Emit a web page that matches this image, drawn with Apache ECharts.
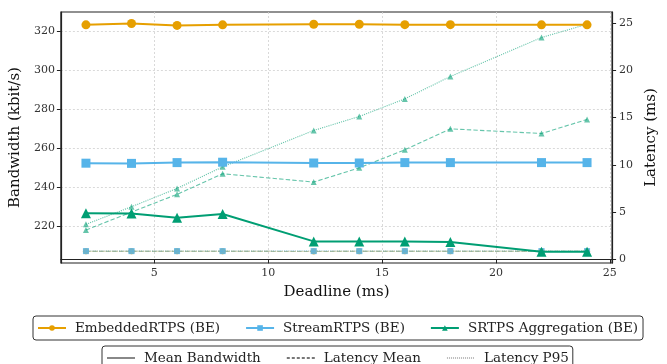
<!DOCTYPE html>
<html>
<head>
<meta charset="utf-8">
<script src="https://cdn.jsdelivr.net/npm/echarts@6/dist/echarts.min.js"></script>
<style>
html,body{margin:0;padding:0;background:#fff;}
#chart{width:667px;height:364px;}
</style>
</head>
<body>
<div id="chart"></div>
<script>
// Data
var deadlines = [2, 4, 6, 8, 12, 14, 16, 18, 22, 24];
var embeddedBw = [323.4, 324.1, 323.1, 323.4, 323.7, 323.7, 323.5, 323.5, 323.4, 323.4];
var streamBw = [252.3, 252.2, 252.6, 252.8, 252.4, 252.4, 252.6, 252.6, 252.6, 252.6];
var srtpsBw = [226.6, 226.4, 224.2, 226.2, 212.1, 212.1, 212.1, 211.8, 206.8, 206.8];
var embeddedLatMean = [0.84, 0.84, 0.84, 0.84, 0.83, 0.84, 0.84, 0.84, 0.84, 0.84];
var embeddedLatP95 = [0.86, 0.86, 0.86, 0.86, 0.85, 0.86, 0.86, 0.86, 0.86, 0.86];
var streamLatMean = [0.86, 0.86, 0.86, 0.86, 0.86, 0.86, 0.86, 0.86, 0.86, 0.86];
var streamLatP95 = [0.88, 0.88, 0.88, 0.88, 0.88, 0.88, 0.88, 0.88, 0.88, 0.88];
var srtpsLatMean = [3.1, 5.0, 6.87, 9.05, 8.17, 9.68, 11.58, 13.8, 13.31, 14.79];
var srtpsLatP95 = [3.7, 5.56, 7.5, 9.78, 13.63, 15.11, 16.97, 19.34, 23.46, 24.86];
var xTicks = [5, 10, 15, 20, 25];
var bwTicks = [220, 240, 260, 280, 300, 320];
var latTicks = [0, 5, 10, 15, 20, 25];

var implNames = ['EmbeddedRTPS (BE)', 'StreamRTPS (BE)', 'SRTPS Aggregation (BE)'];
var metricNames = ['Mean Bandwidth', 'Latency Mean', 'Latency P95'];

var ORANGE = '#E69F00', BLUE = '#56B4E9', GREEN = '#009E73';
var FONT = 'DejaVu Serif';

function pairs(ys) { return deadlines.map(function (x, i) { return [x, ys[i]]; }); }

function bwSeries(name, ys, color, symbol, size, z) {
  return {
    name: name, type: 'line', yAxisIndex: 0, data: pairs(ys),
    symbol: symbol, symbolSize: size, showSymbol: true,
    itemStyle: { color: color },
    lineStyle: { color: color, width: 2 },
    z: z, animation: false
  };
}
function latSeries(name, ys, color, symbol, size, type, z) {
  return {
    name: name, type: 'line', yAxisIndex: 1, data: pairs(ys),
    symbol: symbol, symbolSize: size,
    itemStyle: { color: color, opacity: 0.6 },
    lineStyle: { color: color, width: 1.1, type: type, opacity: 0.6 },
    z: z, animation: false
  };
}
function dummy(name, color, width, type) {
  return {
    name: name, type: 'line', data: [], symbol: 'none',
    itemStyle: { color: color },
    lineStyle: { color: color, width: width, type: type },
    animation: false
  };
}

var series = [
  latSeries('EmbeddedRTPS Latency Mean', embeddedLatMean, ORANGE, 'circle', 6, 'dashed', 3),
  latSeries('EmbeddedRTPS Latency P95', embeddedLatP95, ORANGE, 'circle', 6, 'dotted', 3),
  latSeries('StreamRTPS Latency Mean', streamLatMean, BLUE, 'rect', 6, 'dashed', 4),
  latSeries('StreamRTPS Latency P95', streamLatP95, BLUE, 'rect', 6, 'dotted', 4),
  latSeries('SRTPS Latency Mean', srtpsLatMean, GREEN, 'triangle', 6, 'dashed', 4),
  latSeries('SRTPS Latency P95', srtpsLatP95, GREEN, 'triangle', 6, 'dotted', 4),
  bwSeries(implNames[0], embeddedBw, ORANGE, 'circle', 9, 6),
  bwSeries(implNames[1], streamBw, BLUE, 'rect', 9, 6),
  bwSeries(implNames[2], srtpsBw, GREEN, 'triangle', 10, 6),
  dummy(metricNames[0], '#888', 2, 'solid'),
  dummy(metricNames[1], '#777', 1, [3, 2]),
  dummy(metricNames[2], '#bbb', 1, [1, 1])
];

var legendCommon = {
  orient: 'horizontal',
  itemWidth: 28, itemHeight: 7,
  borderColor: '#333', borderWidth: 1, borderRadius: 3,
  textStyle: { fontFamily: FONT, fontSize: 13.5, color: '#222', padding: [0, 0, 0, 4] },
  selectedMode: false
};

var axisLabelStyle = { fontFamily: FONT, fontSize: 11, color: '#333' };

var option = {
  backgroundColor: '#fff',
  animation: false,
  grid: { left: 53, right: 46, top: 12, bottom: 101, show: true, borderColor: '#222', borderWidth: 1.2, backgroundColor: 'transparent' },
  legend: [
    Object.assign({}, legendCommon, { data: implNames, left: 33, top: 316, itemGap: 25, padding: [5, 5, 5, 4] }),
    Object.assign({}, legendCommon, {
      data: metricNames.map(function (n) { return { name: n, itemStyle: { opacity: 0 } }; }),
      left: 102, top: 346, itemGap: 25, padding: [5, 4, 5, 4]
    })
  ],
  xAxis: {
    type: 'value', min: 0.9, max: 25.1,
    name: 'Deadline (ms)', nameLocation: 'middle', nameGap: 22,
    nameTextStyle: { fontFamily: FONT, fontSize: 15, color: '#111' },
    axisLine: { show: true, lineStyle: { color: '#222', width: 1.2 } },
    axisTick: { show: true, length: 4, customValues: xTicks, lineStyle: { color: '#222' } },
    axisLabel: Object.assign({ margin: 5, customValues: xTicks }, axisLabelStyle),
    splitLine: { show: true, lineStyle: { color: '#d0d0d0', width: 0.8, type: [2, 2] } }
  },
  yAxis: [
    {
      type: 'value', min: 201, max: 330, position: 'left',
      name: 'Bandwidth (kbit/s)', nameLocation: 'middle', nameGap: 26, nameRotate: 90,
      nameTextStyle: { fontFamily: FONT, fontSize: 15, color: '#111' },
      axisLine: { show: true, lineStyle: { color: '#222', width: 1.2 } },
      axisTick: { show: true, length: 4, customValues: bwTicks, lineStyle: { color: '#222' } },
      axisLabel: Object.assign({ margin: 6, customValues: bwTicks }, axisLabelStyle),
      splitLine: { show: true, lineStyle: { color: '#d0d0d0', width: 0.8, type: [2, 2] } }
    },
    {
      type: 'value', min: -0.39, max: 26.16, position: 'right',
      name: 'Latency (ms)', nameLocation: 'middle', nameGap: 21, nameRotate: 90,
      nameTextStyle: { fontFamily: FONT, fontSize: 15, color: '#111' },
      axisLine: { show: true, lineStyle: { color: '#222', width: 1.2 } },
      axisTick: { show: true, length: 4, customValues: latTicks, lineStyle: { color: '#222' } },
      axisLabel: Object.assign({ margin: 7, customValues: latTicks }, axisLabelStyle),
      splitLine: { show: false }
    }
  ],
  series: series
};

var chart = echarts.init(document.getElementById('chart'), null, { renderer: 'canvas' });
chart.setOption(option);
</script>
</body>
</html>
